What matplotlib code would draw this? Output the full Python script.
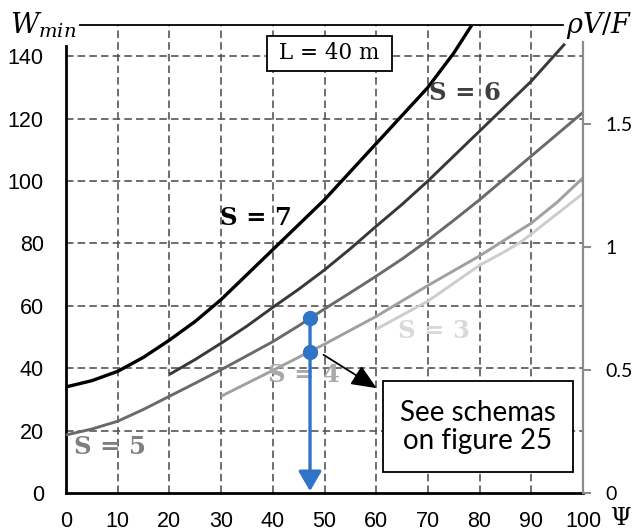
import matplotlib
matplotlib.use("Agg")
import matplotlib.pyplot as plt
from matplotlib.patches import Rectangle

plt.rcParams['mathtext.fontset'] = 'dejavuserif'

##########################
### DATA
##########################

psi_s7 = [0, 5, 10, 15, 20, 25, 30, 35, 40, 45, 50, 55, 60, 65, 70, 75, 78.5]
w_s7 = [34, 36, 39, 43.5, 49, 55, 62, 70, 78, 86, 94, 103, 112, 121, 130, 141, 150]

psi_s6 = [20, 25, 30, 35, 40, 45, 50, 55, 60, 65, 70, 75, 80, 85, 90, 96.5]
w_s6 = [38, 42.8, 48, 53.5, 59.5, 65.3, 71.5, 78.3, 85.5, 92.5, 100, 108, 116, 124, 132, 144]

psi_s5 = [0, 5, 10, 15, 20, 25, 30, 35, 40, 45, 50, 55, 60, 65, 70, 75, 80, 85, 90, 95, 100]
w_s5 = [18.6, 20.5, 23, 26.8, 31, 35.2, 39.5, 44, 48.5, 53.6, 59, 64.2, 69.5,
        75, 81, 87.4, 94, 101, 108, 115, 122]

psi_s4 = [30, 40, 50, 60, 70, 80, 90, 95, 100]
w_s4 = [31, 39.3, 47.7, 56.6, 66.5, 76, 86.5, 93.2, 101]

psi_s3 = [60, 70, 80, 85, 88, 90, 100]
w_s3 = [52.5, 61.5, 73, 77.5, 80.5, 83, 96]

curve_labels = ['S = 7', 'S = 6', 'S = 5', 'S = 4', 'S = 3']
label_psi = [36.7, 77.2, 8.5, 46, 71.2]
label_w = [88, 128.3, 14.6, 37.9, 51.8]

x_ticks = list(range(0, 101, 10))
y_ticks = list(range(0, 141, 20))
right_ticks = [0, 0.5, 1, 1.5]
right_ticklabels = ['0', '0.5', '1', '1.5']
w_per_unit = 78.8      # W value of rhoV/F = 1

# marked operating point
mark_psi = 47.2
mark_w = [56.1, 45.3]
arrow_from = (49.8, 44.3)
arrow_to = (60.1, 33.6)

##########################
### STYLE
##########################

curve_colors = ['#000000', '#383838', '#6a6a6a', '#a0a0a0', '#cdcdcd']
text_colors = ['#000000', '#404040', '#7f7f7f', '#a9a9a9', '#d9d9d9']
curve_widths = [2.4, 2.1, 2.1, 2.1, 2.1]
blue = '#2f74c6'
grid_color = '#555555'

fig = plt.figure(figsize=(6.35, 5.31), dpi=100)
ax = fig.add_axes([66/635, 38/531, 517/635, 468/531])
ax.set_xlim(0, 100)
ax.set_ylim(0, 150)

# dashed grid
ax.vlines(x_ticks[1:-1], 0, 150, colors=grid_color, linestyles=(0, (4.5, 2.5)),
          linewidth=1.2, zorder=1)
ax.hlines(y_ticks[1:], 0, 100, colors=grid_color, linestyles=(0, (4.5, 2.5)),
          linewidth=1.2, zorder=1)

series = [(psi_s7, w_s7), (psi_s6, w_s6), (psi_s5, w_s5),
          (psi_s4, w_s4), (psi_s3, w_s3)]
for (px, wy), c, lw in zip(series, curve_colors, curve_widths):
    ax.plot(px, wy, color=c, lw=lw, zorder=3, solid_capstyle='butt')

for txt, lx, ly, c in zip(curve_labels, label_psi, label_w, text_colors):
    ax.text(lx, ly, txt, color=c, fontsize=17.5, fontweight='bold',
            family='DejaVu Serif', ha='center', va='center', zorder=4)

# blue arrow with two points
ax.annotate('', xy=(mark_psi, 0.6), xytext=(mark_psi, mark_w[0]),
            arrowprops=dict(arrowstyle='-|>,head_length=0.6,head_width=0.35',
                            color=blue, lw=2.4, mutation_scale=20,
                            shrinkA=0, shrinkB=0), zorder=6)
ax.plot([mark_psi] * len(mark_w), mark_w, 'o', color=blue, ms=10, zorder=7)

ax.annotate('', xy=arrow_to, xytext=arrow_from,
            arrowprops=dict(arrowstyle='-|>,head_length=0.7,head_width=0.3',
                            color='black', lw=1.3, mutation_scale=22,
                            shrinkA=0, shrinkB=0), zorder=6)

# text boxes
ax.add_patch(Rectangle((38.8, 135.3), 24.2, 11.2, fc='white', ec='black',
                       lw=1.3, zorder=5))
ax.text(50.9, 140.9, 'L = 40 m', family='DejaVu Serif', fontsize=15.5,
        ha='center', va='center', zorder=6)

ax.add_patch(Rectangle((61.4, 6.8), 36.6, 29.2, fc='white', ec='black',
                       lw=1.3, zorder=5))
ax.text(79.7, 21.2, 'See schemas\non figure 25', family='Lato', fontsize=20,
        ha='center', va='center', linespacing=1.1, zorder=6)

# spines and ticks
ax.spines['right'].set_visible(False)
ax.spines['left'].set_linewidth(2)
ax.spines['bottom'].set_linewidth(2)
ax.spines['left'].set_bounds(0, 143.2)
ax.spines['top'].set_linewidth(1.3)
ax.spines['top'].set_bounds(2.7, 96.1)
ax.set_xticks(x_ticks)
ax.set_yticks(y_ticks)
ax.tick_params(length=0, labelsize=15.5)
ax.tick_params(axis='y', pad=16)
ax.tick_params(axis='x', pad=13)
for lab in ax.get_xticklabels() + ax.get_yticklabels():
    lab.set_family('Liberation Sans')

ax2 = ax.twinx()
ax2.set_ylim(0, 150 / w_per_unit)
for s in ['top', 'left', 'bottom']:
    ax2.spines[s].set_visible(False)
ax2.spines['right'].set_color('#8c8c8c')
ax2.spines['right'].set_linewidth(1.6)
ax2.spines['right'].set_bounds(0, 144.5 / w_per_unit)
ax2.set_yticks(right_ticks)
ax2.set_yticklabels(right_ticklabels, family='Lato', fontsize=14)
ax2.tick_params(axis='y', length=6, width=1.5, color='#8c8c8c', pad=10)

# axis titles
fig.text(10/635, 1 - 33/531, r'$W_{min}$', fontsize=20, va='baseline')
fig.text(566/635, 1 - 33/531, r'$\rho V/F$', fontsize=19.5, va='baseline')
fig.text(621/635, 1 - 525/531, 'Ψ', family='DejaVu Serif', fontsize=17,
         ha='center', va='baseline')

fig.savefig('out.png', dpi=100)
